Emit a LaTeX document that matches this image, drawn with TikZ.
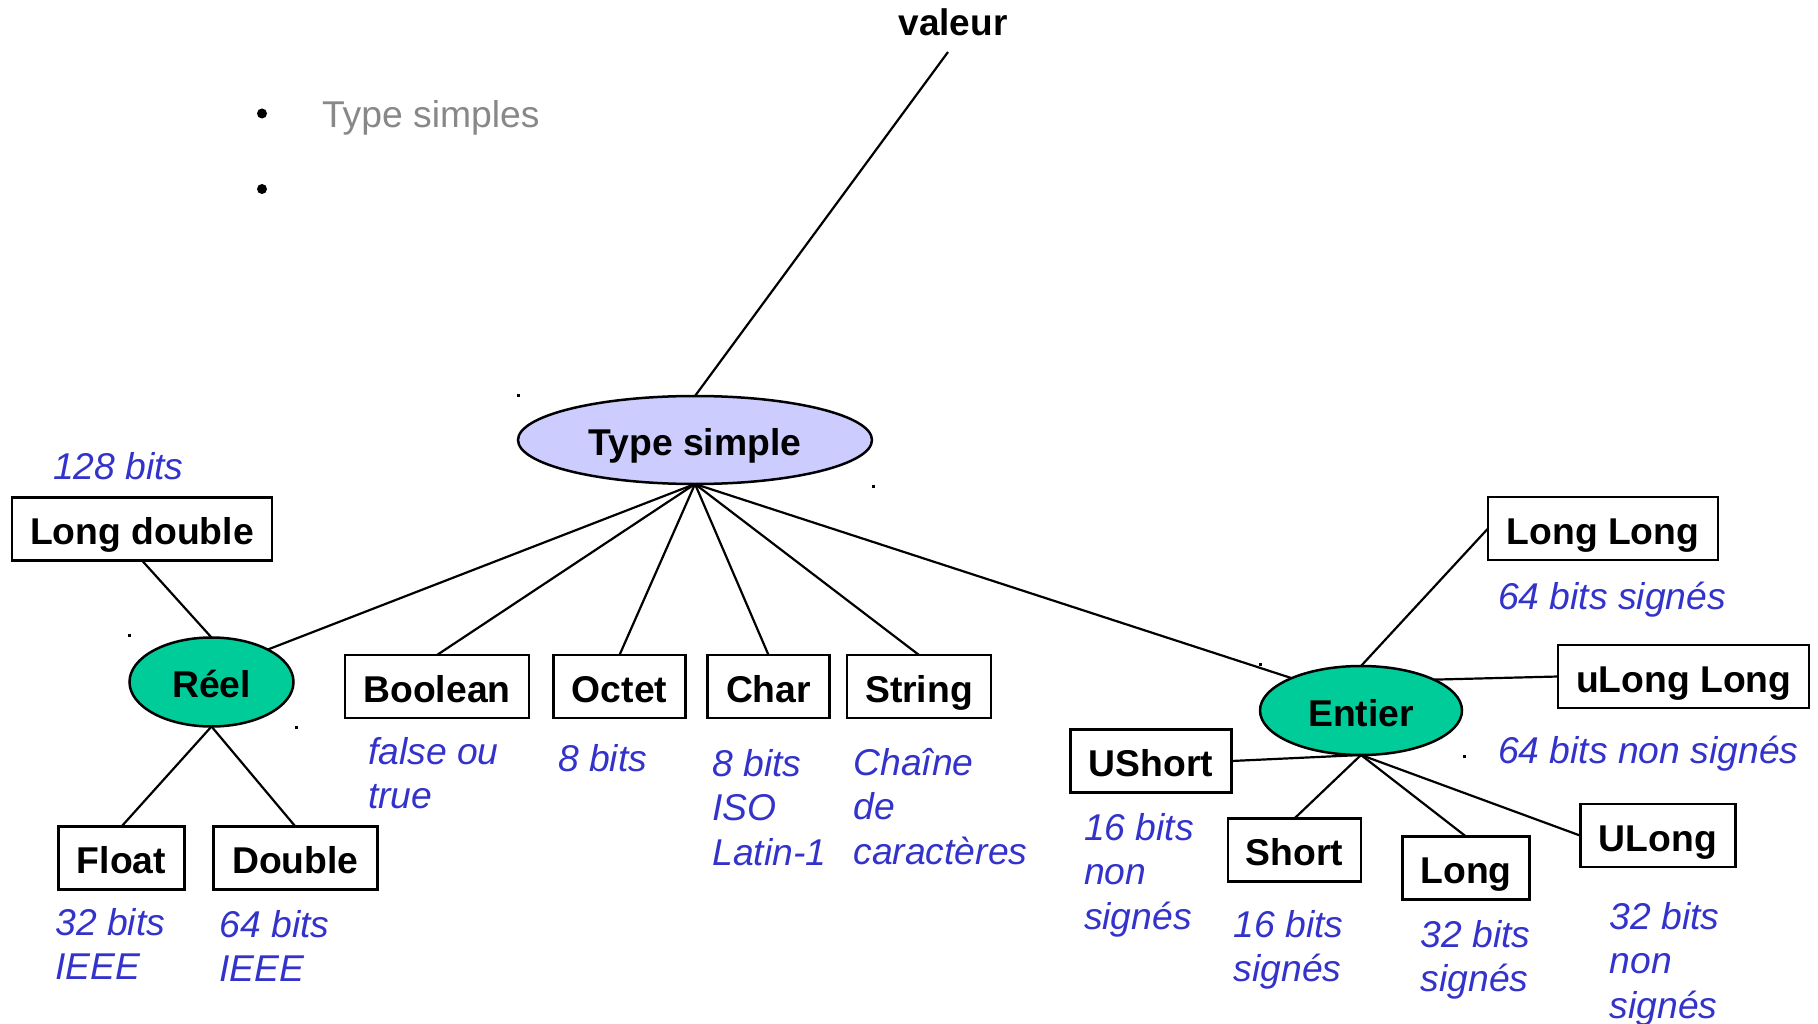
\documentclass[tikz,border=0pt]{standalone}
\usepackage{fontspec}
\setmainfont{Liberation Sans}
\usetikzlibrary{shapes.geometric}
\definecolor{lav}{HTML}{CCCCFF}
\definecolor{tealfill}{HTML}{00CC99}
\definecolor{lblue}{HTML}{3333CC}
\definecolor{gtxt}{HTML}{888888}
\newcommand{\mylines}[1]{\begin{tabular}[t]{@{}l@{}}#1\end{tabular}}
\begin{document}
\begin{tikzpicture}[x=1pt,y=-1pt,
  every node/.style={font=\fontsize{37.3}{44.5}\selectfont, inner sep=0pt, outer sep=0pt},
  tbox/.style={draw, line width=2.5pt, font=\fontsize{37.3}{44.5}\selectfont\bfseries, minimum height=63pt, text height=33pt, text depth=2pt},
  oval/.style={ellipse, draw, line width=2.5pt, font=\fontsize{37.3}{44.5}\selectfont\bfseries, text height=33pt, text depth=2pt},
  lbl/.style={anchor=base west, text=lblue, font=\fontsize{37.3}{44.5}\selectfont\itshape},
  conn/.style={line width=2.2pt},
  speck/.style={fill=black, minimum size=3pt},
  bullet/.style={circle, fill=black, minimum size=10pt}]
\useasboundingbox (0,0) rectangle (1818,1024);

% title and bullets
\node[font=\fontsize{37}{44}\selectfont\bfseries, anchor=base] (val) at (953,35.5) {valeur};
\node[bullet] (b1) at (262,113.5) {};
\node[bullet] (b2) at (262,189) {};
\node[anchor=base west, text=gtxt] (ttl) at (322,128) {Type simples};

% ellipses
\node[oval, fill=lav, minimum width=354pt, minimum height=88pt] (ts) at (695,440) {Type simple};
\node[oval, fill=tealfill, minimum width=164pt, minimum height=89pt] (reel) at (211.5,682) {Réel};
\node[oval, fill=tealfill, minimum width=202pt, minimum height=89pt] (ent) at (1361,710.5) {Entier};

% boxes
\node[tbox, minimum width=260pt] (ld) at (142,529) {Long double};
\node[tbox, minimum width=184pt] (bool) at (437,686.5) {Boolean};
\node[tbox, minimum width=132pt] (oct) at (619.5,686.5) {Octet};
\node[tbox, minimum width=122pt] (chr) at (768.5,686.5) {Char};
\node[tbox, minimum width=144pt] (str) at (919,686.5) {String};
\node[tbox, minimum width=126pt] (flt) at (121.5,858) {Float};
\node[tbox, minimum width=164pt] (dbl) at (295.4,858) {Double};
\node[tbox, minimum width=230pt] (ll) at (1603,528.5) {Long Long};
\node[tbox, minimum width=251pt] (ull) at (1683.7,676.5) {uLong Long};
\node[tbox, minimum width=161pt] (ush) at (1151,761) {UShort};
\node[tbox, minimum width=133pt] (sh) at (1294.4,850) {Short};
\node[tbox, minimum width=127pt] (lg) at (1466,868) {Long};
\node[tbox, minimum width=155pt] (ul) at (1658,835.7) {ULong};

% labels
\node[lbl] (l128) at (53,479.5) {\mylines{128 bits}};
\node[lbl] (lbool) at (368,764) {\mylines{false ou\\true}};
\node[lbl] (loct) at (558,771) {\mylines{8 bits}};
\node[lbl] (lchr) at (712.5,776) {\mylines{8 bits\\ISO\\Latin-1}};
\node[lbl] (lstr) at (853.4,775) {\mylines{Chaîne\\de\\caractères}};
\node[lbl] (lflt) at (55.4,935) {\mylines{32 bits\\IEEE}};
\node[lbl] (ldbl) at (219.5,937) {\mylines{64 bits\\IEEE}};
\node[lbl] (lll) at (1498,609) {\mylines{64 bits signés}};
\node[lbl] (lull) at (1498,763) {\mylines{64 bits non signés}};
\node[lbl] (lush) at (1084,840) {\mylines{16 bits\\non\\signés}};
\node[lbl] (lsh) at (1233.6,937) {\mylines{16 bits\\signés}};
\node[lbl] (llg) at (1420.7,947) {\mylines{32 bits\\signés}};
\node[lbl] (lul) at (1609.7,929) {\mylines{32 bits\\non\\signés}};

% tiny specks (corner marks)
\node[speck] (s1) at (518,395) {};
\node[speck] (s2) at (873,486) {};
\node[speck] (s3) at (129,635) {};
\node[speck] (s4) at (296,727) {};
\node[speck] (s5) at (1260,664) {};
\node[speck] (s6) at (1464,756) {};

% connectors
\coordinate (vt) at (948,52);
\draw[conn] (vt) -- (ts.north);
\draw[conn] (ts.south) -- (reel.30);
\draw[conn] (ts.south) -- (bool.north);
\draw[conn] (ts.south) -- (oct.north);
\draw[conn] (ts.south) -- (chr.north);
\draw[conn] (ts.south) -- (str.north);
\draw[conn] (ts.south) -- (ent.155);
\draw[conn] (ld.south) -- (reel.north);
\draw[conn] (reel.south) -- (flt.north);
\draw[conn] (reel.south) -- (dbl.north);
\draw[conn] (ent.north) -- (ll.west);
\draw[conn] (ent.23) -- (ull.west);
\draw[conn] (ush.east) -- (ent.south);
\draw[conn] (ent.south) -- (sh.north);
\draw[conn] (ent.south) -- (lg.north);
\draw[conn] (ent.south) -- (ul.west);
\end{tikzpicture}
\end{document}
